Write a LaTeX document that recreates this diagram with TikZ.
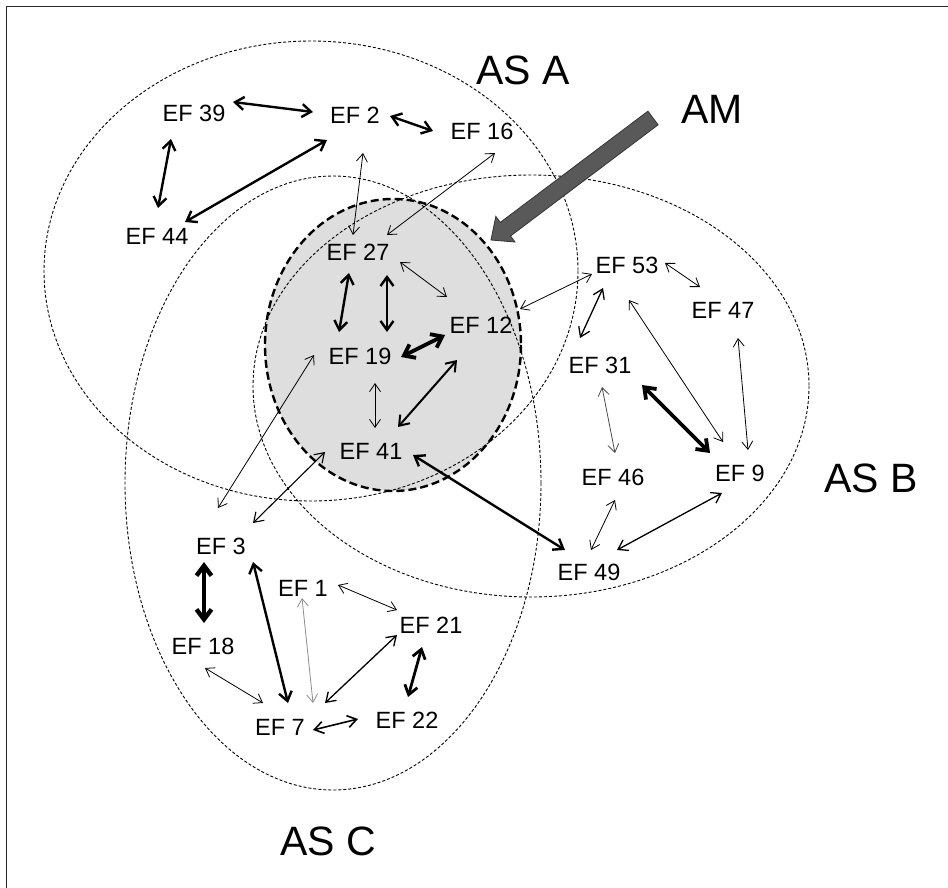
\documentclass[tikz,border=0pt]{standalone}
\usepackage{fontspec}
\setmainfont{Liberation Sans}
\usetikzlibrary{arrows.meta,calc}
\begin{document}
\begin{tikzpicture}[x=1pt,y=-1pt,
  ef/.style={inner sep=0pt,font=\fontsize{23.5}{25}\selectfont},
  big/.style={inner sep=0pt,font=\fontsize{41}{44}\selectfont},
  setline/.style={dash pattern=on 3pt off 2pt,line width=0.9pt},
  amline/.style={dash pattern=on 8pt off 4pt,line width=2.4pt},
  lthin/.style={line width=0.8pt,{Straight Barb[length=8pt,width=11pt]}-{Straight Barb[length=8pt,width=11pt]}},
  lgray/.style={lthin,draw=black!45},
  lmed/.style={line width=1.3pt,{Straight Barb[length=9pt,width=12pt]}-{Straight Barb[length=9pt,width=12pt]}},
  lthick/.style={line width=2.4pt,{Straight Barb[length=9pt,width=13pt]}-{Straight Barb[length=9pt,width=13pt]}},
  lvthick/.style={line width=3.8pt,{Straight Barb[length=10pt,width=15pt]}-{Straight Barb[length=10pt,width=15pt]}}
]
\useasboundingbox (0,0) rectangle (948,888);
% frame (left and top only)
\draw[line width=1.6pt,black!85] (6.5,888) -- (6.5,6.5) -- (948,6.5);

% AM region
\fill[black!13] (393,345) ellipse [x radius=128, y radius=146];
% sets
\draw[setline] (311,271) ellipse [x radius=267, y radius=230];
\draw[setline] (531,386) ellipse [x radius=278, y radius=211];
\draw[setline] (333,483) ellipse [x radius=208, y radius=307];
\draw[amline] (393,345) ellipse [x radius=128, y radius=146];

% labels
\node[big] (asa) at (523,70) {AS A};
\node[big] (asb) at (871,478) {AS B};
\node[big] (asc) at (328,841) {AS C};
\node[big] (am) at (712,109) {AM};

% AM arrow
\filldraw[fill=black!65,draw=black!80,line width=0.8pt]
  (647.9,111.2) -- (658.1,124.8) -- (510.5,236.0) -- (515.0,242.0)
  -- (491,240) -- (495.8,216.4) -- (500.3,222.4) -- cycle;

% nodes
\node[ef] (n39) at (194,113) {EF 39};
\node[ef] (n2)  at (355,115) {EF 2};
\node[ef] (n16) at (482,131) {EF 16};
\node[ef] (n44) at (157,236) {EF 44};
\node[ef] (n27) at (358,252) {EF 27};
\node[ef] (n53) at (627,265) {EF 53};
\node[ef] (n47) at (723,310) {EF 47};
\node[ef] (n12) at (481,325) {EF 12};
\node[ef] (n19) at (360,356) {EF 19};
\node[ef] (n31) at (600,365) {EF 31};
\node[ef] (n41) at (371,451) {EF 41};
\node[ef] (n46) at (613,477) {EF 46};
\node[ef] (n9)  at (740,473) {EF 9};
\node[ef] (n3)  at (221,546) {EF 3};
\node[ef] (n49) at (589,572) {EF 49};
\node[ef] (n1)  at (303,588) {EF 1};
\node[ef] (n21) at (431,625) {EF 21};
\node[ef] (n18) at (203,646) {EF 18};
\node[ef] (n22) at (407,720) {EF 22};
\node[ef] (n7)  at (280,727) {EF 7};

% connectors
\draw[lthick]  ([shift={(39,-11)}]n39.center) -- ([shift={(-42,-3)}]n2.center);
\draw[lthick]  ([shift={(35,1)}]n2.center) -- ([shift={(-49,0)}]n16.center);
\draw[lthick]  ([shift={(-23,26)}]n39.center) -- ([shift={(1,-28)}]n44.center);
\draw[lthick]  ([shift={(28,-14)}]n44.center) -- ([shift={(-28,25)}]n2.center);
\draw[lthin]   ([shift={(8,38)}]n2.center) -- ([shift={(-5,-17)}]n27.center);
\draw[lthin]   ([shift={(13,22)}]n16.center) -- ([shift={(29,-17)}]n27.center);
\draw[lthick]  ([shift={(-9,21)}]n27.center) -- ([shift={(-21,-24)}]n19.center);
\draw[lthick]  ([shift={(29,23)}]n27.center) -- ([shift={(27,-24)}]n19.center);
\draw[lthin]   ([shift={(42,10)}]n27.center) -- ([shift={(-34,-28)}]n12.center);
\draw[lvthick] ([shift={(41,1)}]n19.center) -- ([shift={(-36,10)}]n12.center);
\draw[lthick,line width=2pt] ([shift={(-24,35)}]n12.center) -- ([shift={(27,-24)}]n41.center);
\draw[lthin]   ([shift={(15,27)}]n19.center) -- ([shift={(4,-23)}]n41.center);
\draw[lthin]   ([shift={(-46,-1)}]n19.center) -- ([shift={(-3,-38)}]n3.center);
\draw[lmed,line width=1.1pt] ([shift={(-46,1)}]n41.center) -- ([shift={(32,-23)}]n3.center);
\draw[lthick]  ([shift={(42,4)}]n41.center) -- ([shift={(-24,-22)}]n49.center);
\draw[lthin]   ([shift={(39,-16)}]n12.center) -- ([shift={(-35,9)}]n53.center);
\draw[lthin]   ([shift={(38,-2)}]n53.center) -- ([shift={(-23,-23)}]n47.center);
\draw[lmed]    ([shift={(-24,23)}]n53.center) -- ([shift={(-20,-27)}]n31.center);
\draw[lthin]   ([shift={(2,35)}]n53.center) -- ([shift={(-17,-31)}]n9.center);
\draw[lthin]   ([shift={(15,28)}]n47.center) -- ([shift={(8,-23)}]n9.center);
\draw[lvthick] ([shift={(42,20)}]n31.center) -- ([shift={(-30,-20)}]n9.center);
\draw[lthin,draw=black!70] ([shift={(2,22)}]n31.center) -- ([shift={(2,-24)}]n46.center);
\draw[lthin]   ([shift={(2,23)}]n46.center) -- ([shift={(2,-22)}]n49.center);
\draw[lmed]    ([shift={(-18,20)}]n9.center) -- ([shift={(28,-22)}]n49.center);
\draw[lvthick,line width=4.4pt] ([shift={(-17,16)}]n3.center) -- ([shift={(1,-23)}]n18.center);
\draw[lthick]  ([shift={(32,16)}]n3.center) -- ([shift={(8,-24)}]n7.center);
\draw[lgray]   ([shift={(-1,10)}]n1.center) -- ([shift={(33,-24)}]n7.center);
\draw[lthin]   ([shift={(35,-3)}]n1.center) -- ([shift={(-34,-15)}]n21.center);
\draw[lmed]    ([shift={(-34,10)}]n21.center) -- ([shift={(45,-24)}]n7.center);
\draw[lthick,line width=2.8pt] ([shift={(-9,22)}]n21.center) -- ([shift={(1,-23)}]n22.center);
\draw[lthin]   ([shift={(2,22)}]n18.center) -- ([shift={(-17,-24)}]n7.center);
\draw[lmed,line width=1.6pt] ([shift={(33,3)}]n7.center) -- ([shift={(-49,-1)}]n22.center);
\end{tikzpicture}
\end{document}
